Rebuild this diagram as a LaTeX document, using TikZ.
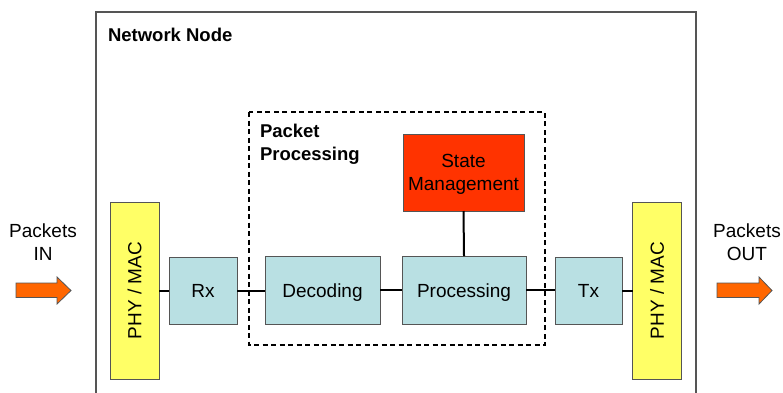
\documentclass[tikz,border=0pt]{standalone}
\usepackage{fontspec}
\setmainfont{Liberation Sans}
\usetikzlibrary{shapes.arrows}
\definecolor{boxblue}{HTML}{B9E0E3}
\definecolor{phyyellow}{HTML}{FFFF66}
\definecolor{statered}{HTML}{FF3300}
\definecolor{arroworange}{HTML}{FF6600}
\definecolor{edgegray}{HTML}{555555}
\begin{document}
\begin{tikzpicture}[x=1pt,y=-1pt,
  every node/.style={font=\fontsize{19}{23}\selectfont, inner sep=0pt, outer sep=0pt},
  blk/.style={draw=edgegray, line width=1pt, fill=boxblue, align=center, text height=14pt, text depth=0pt},
  phy/.style={draw=edgegray, line width=1pt, fill=phyyellow, minimum width=49pt, minimum height=177pt},
  conn/.style={draw=black, line width=2pt},
  bigarrow/.style={draw=edgegray, line width=0.8pt, fill=arroworange}]
\useasboundingbox (0,0) rectangle (783,392);
\fill[white] (0,0) rectangle (783,392);
% outer network node box (open at bottom)
\draw[edgegray, line width=1.3pt] (96,400) -- (96,12) -- (696,12) -- (696,400);
\node[anchor=base west, font=\fontsize{18.5}{22}\selectfont\bfseries] (nnlabel) at (108,41) {Network Node};
% dashed packet processing box
\draw[black, line width=1.2pt, dash pattern=on 5pt off 3.5pt] (249,112) rectangle (545,345);
\node[anchor=north west, align=left, font=\fontsize{18.5}{23}\selectfont\bfseries] (pplabel) at (260,124) {Packet\\Processing};
% blocks
\node[phy] (phyL) at (134.5,290.5) {};
\node[rotate=90] (phyLt) at (phyL.center) {PHY / MAC};
\node[phy] (phyR) at (657,290.5) {};
\node[rotate=90] (phyRt) at (phyR.center) {PHY / MAC};
\node[blk, minimum width=68pt, minimum height=67pt] (rx) at (203,290.5) {Rx};
\node[blk, minimum width=115pt, minimum height=68pt] (dec) at (322.5,290) {Decoding};
\node[blk, minimum width=124pt, minimum height=68pt] (proc) at (464,290) {Processing};
\node[blk, minimum width=67pt, minimum height=67pt] (tx) at (588.5,290.5) {Tx};
\node[draw=edgegray, line width=1pt, fill=statered, align=center, text depth=0pt, minimum width=121pt, minimum height=77pt] (state) at (463.5,172.5) {State\\Management};
% connectors
\draw[conn] (phyL.east |- rx.west) -- (rx.west);
\draw[conn] (rx.east) -- (dec.west |- rx.east);
\draw[conn] (dec.east) -- (proc.west);
\draw[conn] (proc.east) -- (tx.west |- proc.east);
\draw[conn] (tx.east) -- (phyR.west |- tx.east);
\draw[conn] (state.south) -- (proc.north);
% packets in / out
\node[align=center] (pin) at (43,242) {Packets\\IN};
\node[align=center] (pout) at (747,242) {Packets\\OUT};
\draw[bigarrow] (16,283) -- (57,283) -- (57,277) -- (71,290.5) -- (57,304) -- (57,297.5) -- (16,297.5) -- cycle;
\draw[bigarrow] (717,283) -- (759,283) -- (759,277) -- (772,290.5) -- (759,304) -- (759,297.5) -- (717,297.5) -- cycle;
\end{tikzpicture}
\end{document}
